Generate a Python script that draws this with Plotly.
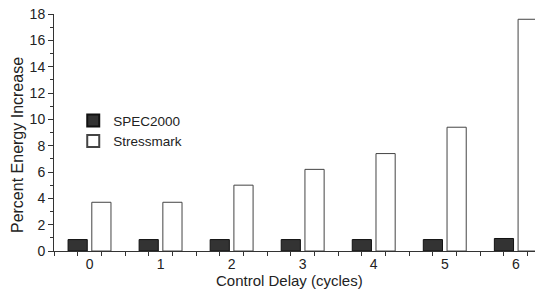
import plotly.graph_objects as go

categories = [0, 1, 2, 3, 4, 5, 6]
spec2000 = [0.87, 0.87, 0.87, 0.87, 0.87, 0.87, 0.95]
stressmark = [3.7, 3.7, 5.0, 6.2, 7.4, 9.4, 17.6]
y_ticks = [0, 2, 4, 6, 8, 10, 12, 14, 16, 18]

FONT = "Liberation Sans, Arial, sans-serif"

fig = go.Figure()
fig.add_trace(go.Bar(
    x=categories, y=spec2000, name="SPEC2000",
    width=0.27, offset=-0.302,
    marker=dict(color="#333333", line=dict(color="#111111", width=1)),
))
fig.add_trace(go.Bar(
    x=categories, y=stressmark, name="Stressmark",
    width=0.27, offset=0.032,
    marker=dict(color="white", line=dict(color="#444444", width=1)),
))

fig.update_layout(
    width=535, height=289,
    margin=dict(l=54, r=0, t=14, b=38, autoexpand=False),
    paper_bgcolor="white", plot_bgcolor="white",
    barmode="overlay",
    font=dict(family=FONT, size=14, color="#222222"),
    showlegend=True,
    legend=dict(x=0.04, y=0.615, xanchor="left", yanchor="top",
                bgcolor="rgba(0,0,0,0)", font=dict(size=13.5),
                itemsizing="constant", tracegroupgap=0),
    xaxis=dict(
        range=[-0.5, 6.27], tickmode="array", tickvals=categories,
        ticktext=[str(c) for c in categories],
        ticks="outside", ticklen=0, tickcolor="#333333",
        showline=True, linecolor="#333333", linewidth=1,
        showgrid=False, zeroline=False, automargin=False,
        minor=dict(tick0=-0.5, dtick=1/3, ticks="outside", ticklen=4,
                   tickcolor="#333333", showgrid=False),
    ),
    yaxis=dict(
        range=[0, 18], tickmode="array", tickvals=y_ticks,
        ticks="outside", ticklen=5, tickcolor="#333333",
        showline=True, linecolor="#333333", linewidth=1,
        showgrid=False, zeroline=False, automargin=False,
        minor=dict(dtick=1, ticks="outside", ticklen=3,
                   tickcolor="#333333", showgrid=False),
    ),
    annotations=[
        dict(text="Control Delay (cycles)", xref="paper", yref="paper",
             x=0.4886, y=-0.125, xanchor="center", yanchor="middle",
             showarrow=False, font=dict(size=15)),
        dict(text="Percent Energy Increase", xref="paper", yref="paper",
             x=-0.077, y=0.447, xanchor="center", yanchor="middle",
             textangle=-90, showarrow=False, font=dict(size=16)),
    ],
)

fig.write_html("out.html", config={"displayModeBar": False},
               post_script="document.body.style.margin='0px';")
